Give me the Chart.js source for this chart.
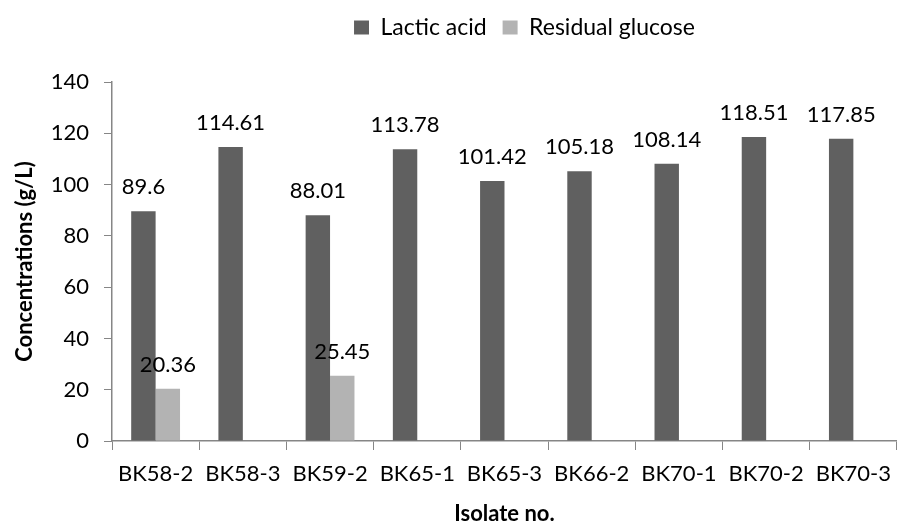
<!DOCTYPE html>
<html>
<head>
<meta charset="utf-8">
<script src="https://cdn.jsdelivr.net/npm/chart.js@4.4.1/dist/chart.umd.min.js"></script>
<style>
  html, body { margin: 0; padding: 0; background: #fff; }
  #wrap { width: 902px; height: 529px; }
</style>
</head>
<body>
<div id="wrap"><canvas id="chart" width="902" height="529"></canvas></div>
<script>
// data
const categories = ['BK58-2', 'BK58-3', 'BK59-2', 'BK65-1', 'BK65-3', 'BK66-2', 'BK70-1', 'BK70-2', 'BK70-3'];
const lacticAcid = [89.6, 114.61, 88.01, 113.78, 101.42, 105.18, 108.14, 118.51, 117.85];
const residualGlucose = [20.36, null, 25.45, null, null, null, null, null, null];
const seriesNames = ['Lactic acid', 'Residual glucose'];
const yMin = 0;
const yMax = 140;
const yStep = 20;

const axisGray = '#868686';
Chart.defaults.font.family = 'Lato, "Noto Sans", sans-serif';
Chart.defaults.color = '#000';

// fixes the legend band height and moves it right like the original
const layoutFix = {
    id: 'layoutFix',
    afterInit(chart) {
        const fit = chart.legend.fit;
        chart.legend.fit = function () {
            fit.call(this);
            this.height = 82;
        };
    },
    afterLayout(chart) {
        chart.legend.left = 147;
        chart.legend.right = 902;
    }
};

// value labels above the bars
const barLabels = {
    id: 'barLabels',
    afterDatasetsDraw(chart) {
        const ctx = chart.ctx;
        ctx.save();
        ctx.font = '22px Lato, "Noto Sans", sans-serif';
        ctx.fillStyle = '#000';
        ctx.textAlign = 'center';
        ctx.textBaseline = 'alphabetic';
        chart.data.datasets.forEach((ds, i) => {
            chart.getDatasetMeta(i).data.forEach((bar, j) => {
                const v = ds.data[j];
                if (v === null || v === undefined) return;
                ctx.fillText(String(v), bar.x, bar.y - 17);
            });
        });
        ctx.restore();
    }
};

const ctx = document.getElementById('chart');
const barChart = new Chart(ctx, {
    type: 'bar',
    data: {
        labels: categories,
        datasets: [{
            label: seriesNames[0],
            data: lacticAcid,
            backgroundColor: '#606060',
            borderWidth: 0
        }, {
            label: seriesNames[1],
            data: residualGlucose,
            backgroundColor: '#b3b3b3',
            borderWidth: 0
        }]
    },
    options: {
        responsive: false,
        animation: false,
        devicePixelRatio: 1,
        categoryPercentage: 0.56,
        barPercentage: 1,
        layout: { padding: 0 },
        plugins: {
            legend: {
                position: 'top',
                labels: {
                    boxWidth: 15,
                    boxHeight: 14,
                    padding: 16,
                    color: '#000',
                    font: { size: 23 }
                }
            },
            tooltip: { enabled: false }
        },
        scales: {
            x: {
                grid: {
                    display: true,
                    drawOnChartArea: false,
                    drawTicks: true,
                    tickLength: 9,
                    color: axisGray,
                    offset: true
                },
                border: { color: axisGray, width: 1.5 },
                ticks: {
                    color: '#000',
                    font: { size: 22 },
                    padding: 11,
                    maxRotation: 0,
                    autoSkip: false
                },
                title: {
                    display: true,
                    text: 'Isolate no.',
                    color: '#000',
                    font: { size: 22, weight: 'bold' },
                    padding: { top: 0, bottom: 2 }
                },
                afterFit(scale) { scale.height = 88; }
            },
            y: {
                min: yMin,
                max: yMax,
                grid: {
                    display: true,
                    drawOnChartArea: false,
                    drawTicks: true,
                    tickLength: 8,
                    color: axisGray
                },
                border: { color: axisGray, width: 1.5 },
                ticks: {
                    stepSize: yStep,
                    color: '#000',
                    font: { size: 22 },
                    padding: 15
                },
                title: {
                    display: true,
                    text: 'Concentrations (g/L)',
                    color: '#000',
                    font: { size: 22, weight: 'bold' },
                    padding: { top: 12, bottom: 0 }
                },
                afterFit(scale) { scale.width = 112; }
            }
        }
    },
    plugins: [layoutFix, barLabels]
});
</script>
</body>
</html>
